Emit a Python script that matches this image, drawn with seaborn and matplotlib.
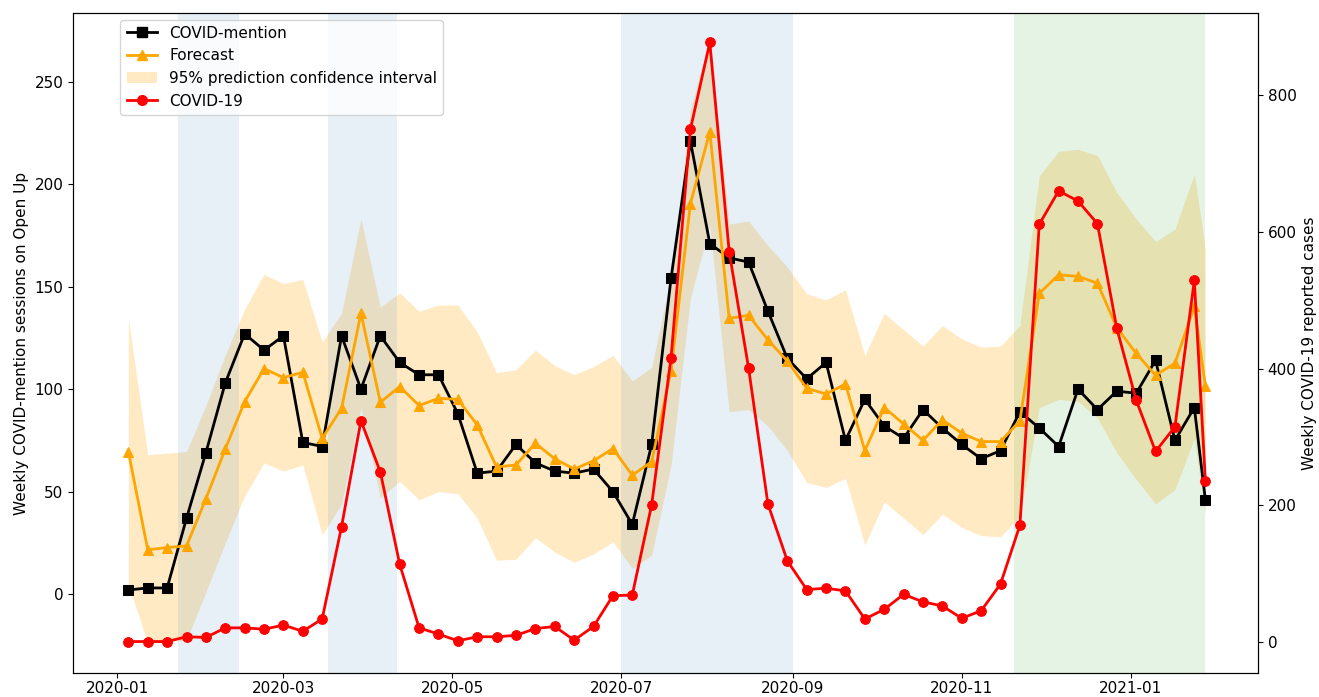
import matplotlib
matplotlib.use("Agg")
import matplotlib.pyplot as plt
import matplotlib.dates as mdates
from matplotlib.patches import Patch
from matplotlib.lines import Line2D
import numpy as np
import pandas as pd
import seaborn as sns

# weekly dates (last point is a partial week)
dates = list(pd.date_range("2020-01-05", periods=56, freq="7D")) + [pd.Timestamp("2021-01-28")]

mention = [2, 3, 3, 37, 69, 103, 127, 119, 126, 74, 72, 126, 100, 126, 113, 107, 107, 88, 59, 60,
           73, 64, 60, 59, 61, 50, 34, 73, 154, 221, 171, 164, 162, 138, 115, 105, 113, 75, 95, 82,
           76, 90, 81, 73, 66, 70, 89, 81, 72, 100, 90, 99, 98, 114, 75, 91, 46]

forecast = [69.5, 21.6, 22.7, 23.5, 46.5, 70.8, 93.9, 110, 105.6, 108.2, 76, 90.6, 137, 93.6, 101.2,
            92, 95.5, 95, 82.5, 62, 63, 73.6, 66, 61, 65, 71, 58, 64.6, 109, 190.5, 225.5, 134.5,
            136, 124, 113.7, 100.4, 97.6, 102.5, 70, 91, 83, 75, 85, 78.5, 74.4, 74.4, 84.5, 146.7,
            155.8, 155, 151.7, 130, 117.4, 106.8, 112.6, 140.4, 101.4]

ci_upper = [134.5, 68, 68.8, 69.5, 92, 116.6, 139, 156, 151.5, 153.5, 123, 137, 183, 140, 147, 138,
            141, 141, 128, 108, 109.5, 119, 111.5, 107, 111, 116.5, 104, 110.5, 155, 236.5, 271,
            180.5, 182, 170, 159.5, 146.5, 143.5, 148.5, 116.5, 137, 129, 121, 131, 124.5, 120.5,
            121, 131, 204, 216, 217, 214, 196, 183, 172, 178, 205, 168]

ci_lower = [4.5, -24, -23, -22.5, 1, 25, 48, 64, 60, 63, 29, 44, 91, 47, 55, 46, 50, 49, 37, 16.5,
            17, 27.5, 20.5, 15.5, 19.5, 25.5, 12.5, 19, 63, 144.5, 180, 89, 90, 82, 70, 54.5, 52,
            56.5, 24, 45, 37, 29, 39, 32.5, 28.5, 28, 38, 91, 95, 94, 86, 69, 56, 44, 51, 76, 38]

cases = [1, 1, 1, 8, 7, 21, 21, 19, 25, 16, 34, 169, 324, 249, 114, 21, 12, 2, 8, 8, 10, 20, 23, 3,
         23, 68, 69, 201, 416, 750, 877, 571, 401, 202, 119, 77, 79, 75, 34, 48, 70, 59, 53, 35, 46,
         85, 171, 611, 660, 645, 612, 459, 354, 279, 315, 529, 236]

blue_spans = [("2020-01-23", "2020-02-14"), ("2020-03-17", "2020-04-11"), ("2020-07-01", "2020-09-01")]
green_span = ("2020-11-20", "2021-01-28")

fig, ax = plt.subplots(figsize=(13.19, 6.97), dpi=100)
fig.subplots_adjust(left=73 / 1319, right=1258 / 1319, top=1 - 13 / 697, bottom=1 - 673 / 697)

ax.fill_between(dates, ci_lower, ci_upper, color="orange", alpha=0.23, linewidth=0)
for s, e in blue_spans:
    ax.axvspan(pd.Timestamp(s), pd.Timestamp(e), color="tab:blue", alpha=0.11, linewidth=0)
ax.axvspan(pd.Timestamp(green_span[0]), pd.Timestamp(green_span[1]), color="tab:green", alpha=0.12, linewidth=0)

sns.lineplot(x=dates, y=mention, ax=ax, color="black", marker="s", markersize=7,
             markeredgecolor="black", linewidth=2)
sns.lineplot(x=dates, y=forecast, ax=ax, color="orange", marker="^", markersize=7,
             markeredgecolor="orange", linewidth=2)

ax2 = ax.twinx()
sns.lineplot(x=dates, y=cases, ax=ax2, color="red", marker="o", markersize=7,
             markeredgecolor="red", linewidth=2)

ax.set_xlim(pd.Timestamp("2019-12-16"), pd.Timestamp("2021-02-16"))
ax.set_ylim(-38.5, 283.5)
ax.set_yticks(np.arange(0, 251, 50))
ax2.set_ylim(-45, 920)
ax2.set_yticks(np.arange(0, 801, 200))

ax.xaxis.set_major_locator(mdates.MonthLocator(bymonth=[1, 3, 5, 7, 9, 11]))
ax.xaxis.set_major_formatter(mdates.DateFormatter("%Y-%m"))

ax.set_ylabel("Weekly COVID-mention sessions on Open Up", fontsize=11)
ax2.set_ylabel("Weekly COVID-19 reported cases", fontsize=11)
ax.tick_params(axis="y", labelsize=11)
ax.tick_params(axis="x", labelsize=11, pad=2)
ax2.tick_params(labelsize=11)

handles = [
    Line2D([], [], color="black", marker="s", markersize=7, linewidth=2),
    Line2D([], [], color="orange", marker="^", markersize=7, linewidth=2),
    Patch(facecolor="orange", alpha=0.23, linewidth=0),
    Line2D([], [], color="red", marker="o", markersize=7, linewidth=2),
]
labels = ["COVID-mention", "Forecast", "95% prediction confidence interval", "COVID-19"]
ax2.legend(handles, labels, loc="upper left", bbox_to_anchor=(0.04, 0.99),
           borderaxespad=0, fontsize=11)

fig.savefig("out.png", dpi=100)
